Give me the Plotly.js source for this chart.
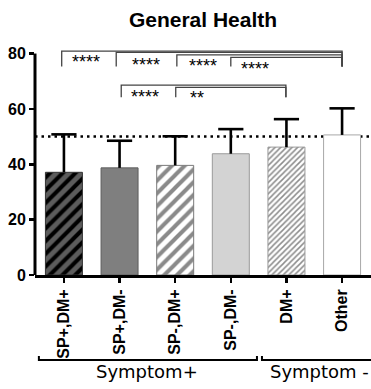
<!DOCTYPE html>
<html>
<head>
<meta charset="utf-8">
<script src="https://cdn.plot.ly/plotly-3.0.1.min.js"></script>
<style>html,body{margin:0;padding:0;background:#fff;}#chart{width:371px;height:389px;}</style>
</head>
<body>
<div id="chart"></div>
<script>
// ---- data ----
const categories = ['SP+,DM+', 'SP+,DM-', 'SP-,DM+', 'SP-,DM-', 'DM+', 'Other'];
const means = [37.1, 38.7, 39.6, 43.8, 46.2, 50.6];
const errUp = [13.7, 9.8, 10.5, 8.9, 10.1, 9.6];
const refValue = 50;
const yTickVals = [0, 20, 40, 60, 80];
const groupLabels = ['Symptom+', 'Symptom -'];
const sigLabels = ['****', '****', '****', '****', '****', '**'];

// ---- styles ----
const F = 'Liberation Sans, Arial, Helvetica, sans-serif';
const barFill = ['#5c5c5c', '#7f7f7f', '#ffffff', '#d3d3d3', '#ffffff', '#ffffff'];
const barEdge = ['#333333', '#5e5e5e', '#7a7a7a', '#9a9a9a', '#9a9a9a', '#a8a8a8'];
const hatchShape = ['/', '', '/', '', '/', ''];
const hatchFg = ['#000000', '#7f7f7f', '#8a8a8a', '#d3d3d3', '#8c8c8c', '#ffffff'];
const hatchSize = [9, 8, 9, 8, 4, 8];
const hatchSolid = [0.45, 0.3, 0.45, 0.3, 0.38, 0.3];

// bracket layout: [leftIdx, rightIdx, topY, legY, labelX, labelY]
const brackets = [
  [-0.04, 5.0, 80.9, 75.3, 0.40, 76.9],
  [0.94, 5.0, 80.4, 75.3, 1.48, 75.8],
  [2.03, 5.0, 79.5, 75.3, 2.50, 75.4],
  [3.00, 5.0, 78.6, 75.3, 3.44, 74.4],
  [1.03, 3.99, 68.6, 64.2, 1.46, 64.2],
  [2.01, 3.99, 67.8, 64.2, 2.40, 63.9]
];

const traces = categories.map((c, i) => {
  const marker = {
    color: barFill[i],
    line: {color: barEdge[i], width: 1}
  };
  if (hatchShape[i]) {
    marker.pattern = {
      shape: hatchShape[i],
      fgcolor: hatchFg[i],
      bgcolor: barFill[i],
      size: hatchSize[i],
      solidity: hatchSolid[i],
      fillmode: 'replace'
    };
  }
  return {
    type: 'bar',
    x: [c],
    y: [means[i]],
    width: 0.665,
    marker: marker,
    hoverinfo: 'skip'
  };
});

// error bars: stems (down from top to mean) + cap markers at the top
const tops = means.map((m, i) => m + errUp[i]);
traces.push({
  type: 'scatter',
  mode: 'markers',
  x: categories,
  y: tops,
  marker: {symbol: 'line-ew', size: 18, color: '#000', line: {color: '#000', width: 2.6}},
  error_y: {
    type: 'data',
    symmetric: false,
    array: means.map(() => 0),
    arrayminus: errUp,
    color: '#000',
    thickness: 2.6,
    width: 0
  },
  hoverinfo: 'skip',
  cliponaxis: false
});

const shapes = [];
const annotations = [];

// y axis line only from 0 to 80
shapes.push({type: 'line', xref: 'paper', yref: 'y', x0: 0, x1: 0, y0: 0, y1: yTickVals[yTickVals.length - 1],
  line: {color: '#000', width: 3}});

// reference dotted line
shapes.push({type: 'line', xref: 'paper', yref: 'y', x0: 0, x1: 1, y0: refValue, y1: refValue, layer: 'below',
  line: {color: '#000', width: 2.5, dash: '2.5px,4px'}});

brackets.forEach((b, i) => {
  shapes.push({type: 'path', xref: 'x', yref: 'y',
    path: `M ${b[0]},${b[3]} L ${b[0]},${b[2]} L ${b[1]},${b[2]} L ${b[1]},${b[3]}`,
    line: {color: '#444', width: 1.3}});
  annotations.push({xref: 'x', yref: 'y', x: b[4], y: b[5], text: sigLabels[i], showarrow: false,
    xanchor: 'center', yanchor: 'middle', font: {family: F, size: 18, color: '#000'}});
});

// group brackets under the axis
const gy = -0.3744, gUp = -0.357;
shapes.push({type: 'path', xref: 'x', yref: 'paper',
  path: `M -0.45,${gUp} L -0.45,${gy} L 3.47,${gy} L 3.47,${gUp}`,
  line: {color: '#000', width: 2}});
shapes.push({type: 'path', xref: 'x', yref: 'paper',
  path: `M 3.56,${gUp} L 3.56,${gy} L 5.6,${gy}`,
  line: {color: '#000', width: 2}});
annotations.push({xref: 'x', yref: 'paper', x: 1.5, y: -0.425, text: groupLabels[0], showarrow: false,
  xanchor: 'center', yanchor: 'middle', font: {family: 'DejaVu Sans, sans-serif', size: 18, color: '#000'}});
annotations.push({xref: 'x', yref: 'paper', x: 4.59, y: -0.425, text: groupLabels[1], showarrow: false,
  xanchor: 'center', yanchor: 'middle', font: {family: 'DejaVu Sans, sans-serif', size: 18, color: '#000'}});

const layout = {
  width: 371,
  height: 389,
  margin: {l: 35, r: 0, t: 48, b: 114, pad: 0},
  paper_bgcolor: '#fff',
  plot_bgcolor: '#fff',
  showlegend: false,
  barmode: 'overlay',
  title: {
    text: '<b>General Health</b>',
    font: {family: F, size: 21, color: '#000'},
    x: 0.5, xref: 'paper', xanchor: 'center',
    y: 0.95, yref: 'container', yanchor: 'middle'
  },
  xaxis: {
    type: 'category',
    categoryorder: 'array',
    categoryarray: categories,
    range: [-0.52, 5.52],
    showline: true, linecolor: '#000', linewidth: 3,
    ticks: 'outside', ticklen: 5, tickwidth: 2.5, tickcolor: '#000',
    tickangle: -90,
    tickfont: {family: F, size: 16, color: '#000', weight: 'bold'},
    showgrid: false, zeroline: false, fixedrange: true
  },
  yaxis: {
    range: [0, 82],
    tickvals: yTickVals,
    showline: false,
    ticks: 'outside', ticklen: 5, tickwidth: 2.5, tickcolor: '#000',
    tickfont: {family: F, size: 16, color: '#000', weight: 'bold'},
    showgrid: false, zeroline: false, fixedrange: true
  },
  shapes: shapes,
  annotations: annotations
};

Plotly.newPlot('chart', traces, layout, {displayModeBar: false, staticPlot: true});
</script>
</body>
</html>
